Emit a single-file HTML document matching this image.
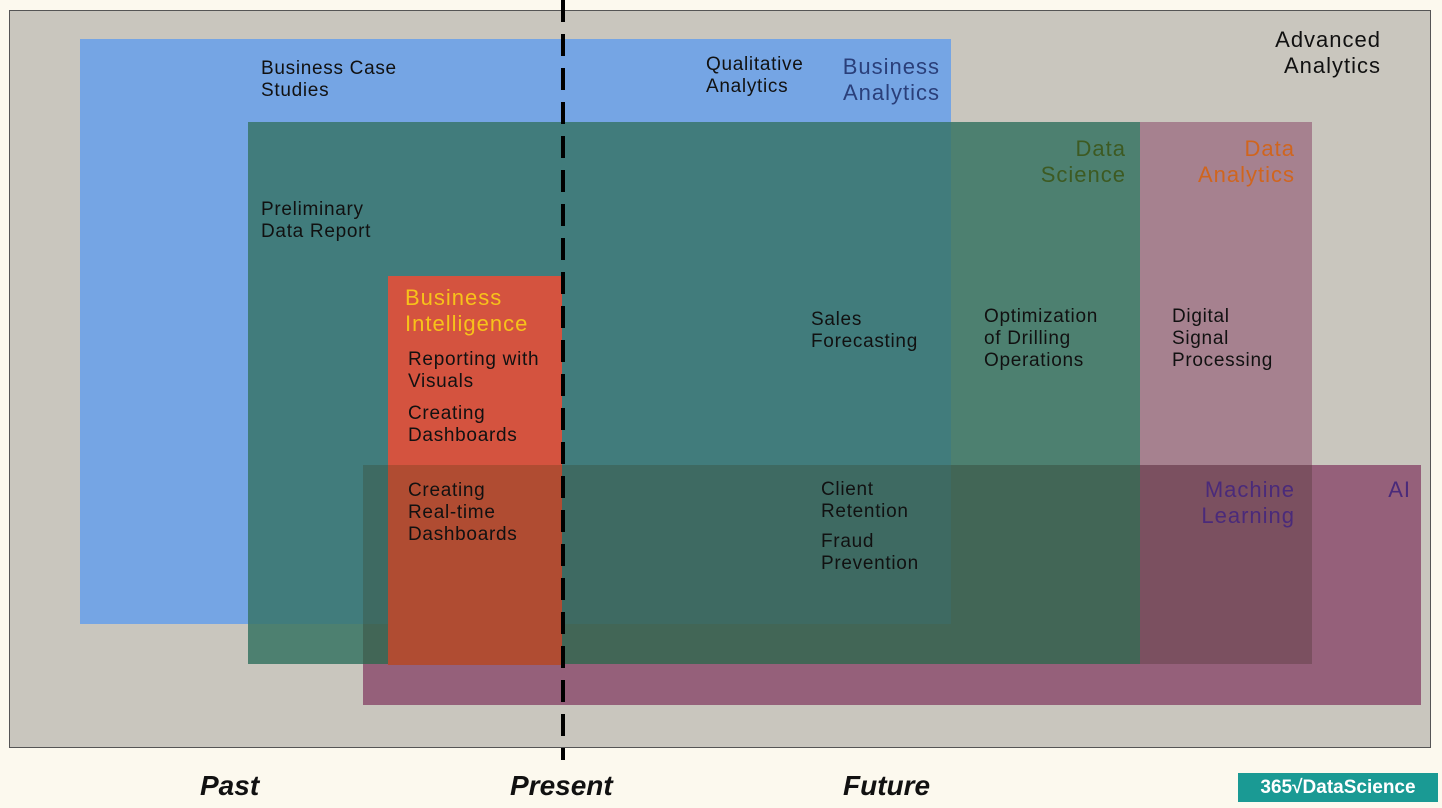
<!DOCTYPE html>
<html><head><style>
body{margin:0;width:1442px;height:808px;background:#fcf9ee;position:relative;overflow:hidden;font-family:"Liberation Sans",sans-serif}
.r{position:absolute}
.t{position:absolute;font-size:19px;line-height:22px;color:#111;letter-spacing:0.7px;white-space:nowrap}
.h{position:absolute;font-size:22px;line-height:26px;letter-spacing:1px;white-space:nowrap;text-align:right}
.b{position:absolute;font-size:28px;font-style:italic;font-weight:bold;color:#111;top:770px}
</style></head><body>
<div class="r" style="left:9px;top:10px;width:1420px;height:736px;background:#c9c6be;border:1.5px solid #555"></div>
<div class="r" style="left:363px;top:465px;width:1058px;height:240px;background:#95607a"></div>
<div class="r" style="left:80px;top:39px;width:871px;height:585px;background:#75a5e4"></div>
<div class="r" style="left:1140px;top:122px;width:172px;height:343px;background:#a6818f"></div>
<div class="r" style="left:1140px;top:465px;width:172px;height:199px;background:#7b5060"></div>
<div class="r" style="left:248px;top:122px;width:892px;height:542px;background:#4d8070"></div>
<div class="r" style="left:248px;top:122px;width:703px;height:502px;background:#417c7c"></div>
<div class="r" style="left:363px;top:465px;width:777px;height:199px;background:#426656"></div>
<div class="r" style="left:363px;top:465px;width:588px;height:159px;background:#3e6a62"></div>
<div class="r" style="left:388px;top:276px;width:174px;height:189px;background:#d4533f"></div>
<div class="r" style="left:388px;top:465px;width:174px;height:200px;background:#b04c32"></div>
<svg class="r" style="left:0;top:0" width="1442" height="808"><line x1="563" y1="0" x2="563" y2="760" stroke="#000" stroke-width="4" stroke-dasharray="22 12"/></svg>

<div class="t" style="left:261px;top:58px">Business Case<br>Studies</div>
<div class="t" style="left:706px;top:54px">Qualitative<br>Analytics</div>
<div class="h" style="right:502px;top:54px;color:#2a3f7a">Business<br>Analytics</div>
<div class="h" style="right:61px;top:27px;color:#111">Advanced<br>Analytics</div>
<div class="h" style="right:316px;top:136px;color:#3d5a22">Data<br>Science</div>
<div class="h" style="right:147px;top:136px;color:#d0651e">Data<br>Analytics</div>
<div class="t" style="left:261px;top:199px">Preliminary<br>Data Report</div>
<div class="h" style="left:405px;top:285px;color:#f7c21a;text-align:left">Business<br>Intelligence</div>
<div class="t" style="left:408px;top:349px">Reporting with<br>Visuals</div>
<div class="t" style="left:408px;top:403px">Creating<br>Dashboards</div>
<div class="t" style="left:408px;top:480px">Creating<br>Real-time<br>Dashboards</div>
<div class="t" style="left:811px;top:309px">Sales<br>Forecasting</div>
<div class="t" style="left:984px;top:306px">Optimization<br>of Drilling<br>Operations</div>
<div class="t" style="left:1172px;top:306px">Digital<br>Signal<br>Processing</div>
<div class="t" style="left:821px;top:479px">Client<br>Retention</div>
<div class="t" style="left:821px;top:531px">Fraud<br>Prevention</div>
<div class="h" style="right:147px;top:477px;color:#4a2a7a">Machine<br>Learning</div>
<div class="h" style="right:31px;top:477px;color:#4a2a7a">AI</div>

<div class="b" style="left:200px">Past</div>
<div class="b" style="left:510px">Present</div>
<div class="b" style="left:843px">Future</div>
<div class="r" style="left:1238px;top:773px;width:200px;height:29px;background:#1a9a94;color:#fff;font-size:19px;font-weight:bold;line-height:29px;text-align:center">365√DataScience</div>
</body></html>
